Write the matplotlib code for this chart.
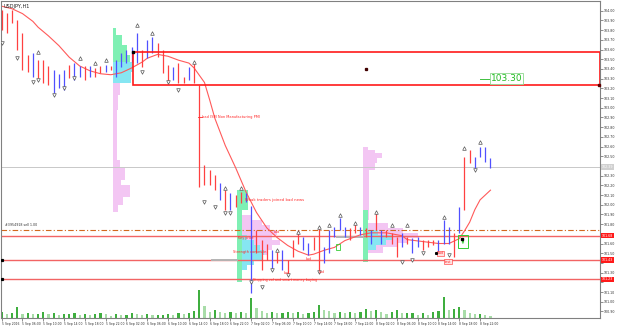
import matplotlib
matplotlib.use('Agg')
import matplotlib.pyplot as plt
from matplotlib.patches import Rectangle

# ---------------- data ----------------
symbol = "USDJPY,H1"

highs = [104.01, 103.98, 104.01, 103.90, 103.77, 103.54, 103.56, 103.49, 103.49, 103.43,
         103.39, 103.35, 103.39, 103.44, 103.46, 103.43, 103.43, 103.43, 103.41, 103.43,
         103.44, 103.43, 103.49, 103.56, 103.59, 103.63, 103.77, 103.59, 103.70, 103.73,
         103.67, 103.59, 103.44, 103.42, 103.46, 103.32, 103.42, 103.46, 103.23, 102.41,
         102.36, 102.31, 102.22, 102.15, 102.12, 102.10, 102.13, 102.12, 101.99, 101.74,
         101.64, 101.60, 101.53, 101.51, 101.53, 101.43, 101.64, 101.74, 101.67, 101.61,
         101.67, 101.77, 101.56, 101.74, 101.77, 101.86, 101.77, 101.76, 101.81, 101.77,
         101.76, 101.74, 101.91, 101.74, 101.74, 101.71, 101.67, 101.71, 101.67, 101.66,
         101.67, 101.64, 101.64, 101.64, 101.64, 101.84, 101.77, 101.71, 101.98, 102.49,
         102.56, 102.49, 102.59, 102.59, 102.48]
lows = [103.80, 103.77, 103.87, 103.59, 103.39, 103.37, 103.32, 103.31, 103.25, 103.23,
        103.15, 103.20, 103.18, 103.31, 103.29, 103.32, 103.29, 103.32, 103.32, 103.36,
        103.37, 103.39, 103.32, 103.42, 103.46, 103.47, 103.46, 103.42, 103.51, 103.56,
        103.52, 103.36, 103.26, 103.29, 103.25, 103.25, 103.29, 103.25, 102.18, 102.20,
        102.20, 102.15, 102.05, 101.95, 101.95, 101.98, 102.02, 102.03, 101.09, 101.50,
        101.33, 101.43, 101.33, 101.40, 101.33, 101.28, 101.46, 101.60, 101.53, 101.48,
        101.53, 101.30, 101.40, 101.50, 101.67, 101.74, 101.67, 101.64, 101.71, 101.69,
        101.67, 101.60, 101.74, 101.60, 101.67, 101.60, 101.46, 101.56, 101.60, 101.50,
        101.56, 101.53, 101.56, 101.58, 101.50, 101.60, 101.60, 101.46, 101.71, 101.95,
        102.43, 102.38, 102.49, 102.44, 102.38]
bar_dir = ("dddddduddduuuduududduduuuuuduuddduddudddddududduudddududdduuddu"
           "uuuuddudududdduduuddduuududduuuuudud")[:len(highs)]

volumes = [6, 4, 5, 11, 4, 5, 4, 4, 6, 4, 5, 3, 4, 4, 5, 3, 4, 3, 4, 5,
           4, 2, 4, 3, 3, 5, 4, 3, 4, 3, 3, 3, 4, 3, 5, 4, 5, 7, 28, 12,
           6, 8, 6, 5, 6, 5, 6, 5, 20, 10, 7, 5, 6, 5, 5, 6, 5, 6, 4, 5,
           6, 13, 8, 7, 5, 6, 5, 6, 5, 6, 9, 7, 8, 6, 4, 6, 8, 5, 5, 5,
           3, 5, 3, 6, 7, 21, 8, 9, 11, 8, 5, 4, 4, 3, 2]

ma_idx = [-1, 2, 4, 6, 7, 9, 11, 13, 15, 17, 19, 21, 23, 25, 27, 28, 30, 32, 34, 36,
          37, 39, 40, 41, 43, 45, 47, 49, 51, 53, 55, 57, 59, 60, 62, 64, 66, 69, 71,
          74, 77, 78, 81, 84, 86, 88, 89, 90, 91, 92, 94]
ma_val = [104.06, 104.02, 103.97, 103.89, 103.83, 103.74, 103.64, 103.52, 103.43, 103.38,
          103.35, 103.34, 103.36, 103.41, 103.47, 103.51, 103.55, 103.53, 103.49, 103.46,
          103.41, 103.26, 103.08, 102.89, 102.61, 102.38, 102.13, 101.92, 101.76, 101.66,
          101.58, 101.52, 101.48, 101.49, 101.53, 101.56, 101.63, 101.69, 101.71, 101.71,
          101.68, 101.64, 101.62, 101.60, 101.60, 101.65, 101.73, 101.82, 101.95, 102.05,
          102.15]

up_frac_idx = [7, 15, 18, 20, 26, 29, 37, 43, 46, 53, 57, 61, 63, 65, 68, 72, 75, 78, 85, 89, 92]
up_frac_price = [103.57, 103.51, 103.46, 103.49, 103.85, 103.77, 103.47, 102.17, 102.17, 101.53,
                 101.72, 101.77, 101.79, 101.89, 101.81, 101.92, 101.79, 101.79, 101.87, 102.58, 102.65]
dn_frac_idx = [0, 3, 6, 7, 10, 12, 14, 27, 32, 34, 39, 41, 43, 44, 48, 50, 52, 55, 61, 77, 79, 81, 86, 91]
dn_frac_price = [103.67, 103.51, 103.26, 103.29, 103.13, 103.20, 103.31, 103.37, 103.26, 103.18,
                 102.03, 101.98, 101.91, 101.91, 101.20, 101.15, 101.33, 101.28, 101.31, 101.41,
                 101.43, 101.50, 101.48, 102.36]

xlabels = ["5 Sep 2016", "5 Sep 06:00", "5 Sep 10:00", "5 Sep 14:00", "5 Sep 18:00", "5 Sep 22:00",
           "6 Sep 02:00", "6 Sep 06:00", "6 Sep 10:00", "6 Sep 14:00", "6 Sep 18:00", "6 Sep 22:00",
           "7 Sep 02:00", "7 Sep 06:00", "7 Sep 10:00", "7 Sep 14:00", "7 Sep 18:00", "7 Sep 22:00",
           "8 Sep 02:00", "8 Sep 06:00", "8 Sep 10:00", "8 Sep 14:00", "8 Sep 18:00", "8 Sep 22:00"]

# horizontal levels
box_top, box_bottom, box_start = 103.57, 103.23, 25.2
box_label = "103.30"
bid_price = 102.39
order_price = 101.74
order_label = "#3954918 sell 1.00"
red_levels = [101.68, 101.43, 101.23]

# volume profiles: (price_hi, price_lo, width_in_bars)
profA_start = 21.4
profA_green = [(103.82, 103.75, 0.6), (103.75, 103.65, 1.7), (103.65, 103.54, 2.7), (103.54, 103.47, 3.3)]
profA_cyan = [(103.47, 103.37, 3.8), (103.37, 103.25, 3.5)]
profA_pink = [(103.25, 103.13, 1.3), (103.13, 102.98, 1.0), (102.98, 102.46, 0.8), (102.46, 102.38, 1.3),
              (102.38, 102.25, 2.3), (102.25, 102.20, 1.5), (102.20, 102.08, 3.3), (102.08, 102.00, 1.9),
              (102.00, 101.92, 1.0)]

profB_start = 45.25
profB_green = [(102.15, 101.95, 2.1), (101.95, 101.20, 1.0)]
profB_pink = [(101.89, 101.84, 1.9), (101.84, 101.79, 3.8), (101.79, 101.74, 5.4), (101.74, 101.69, 6.7),
              (101.69, 101.64, 5.8), (101.64, 101.58, 7.3), (101.58, 101.53, 5.8), (101.53, 101.48, 4.8),
              (101.48, 101.43, 3.8), (101.43, 101.38, 1.9)]
profB_cyan = [(101.69, 101.64, 1.0), (101.64, 101.58, 2.3), (101.58, 101.53, 3.5), (101.53, 101.48, 4.2),
              (101.48, 101.43, 3.8), (101.43, 101.38, 2.3), (101.38, 101.33, 1.0)]
profB_poc = (40.4, 45.25, 101.43)

profC_start = 69.5
profC_green = [(101.95, 101.41, 1.0)]
profC_pink_top = [(102.59, 102.56, 1.0), (102.56, 102.53, 2.3), (102.53, 102.48, 3.7), (102.48, 102.43, 2.7),
                  (102.43, 102.36, 2.3), (102.36, 101.84, 1.2)]
profC_pink = [(101.81, 101.76, 3.8), (101.76, 101.71, 6.7), (101.71, 101.66, 9.6), (101.66, 101.61, 7.7),
              (101.61, 101.56, 5.8), (101.56, 101.50, 2.9)]
profC_cyan = [(101.74, 101.69, 1.9), (101.69, 101.64, 4.8), (101.64, 101.58, 3.5), (101.58, 101.53, 1.5)]
profC_poc = (64.5, 69.5, 101.67)

notes = [
    (38.5, 102.90, "bad ISM Non Manufacturing PMI", 2.6),
    (46.8, 102.05, "Weak traders joined bad news", 2.8),
    (45.5, 101.66, "Key price", 2.4),
    (44.4, 101.51, "Strength comes in", 2.6),
    (52.3, 101.72, "bad", 2.4),
    (58.4, 101.44, "bad", 2.4),
    (54.3, 101.30, "bad", 2.4),
    (61.0, 101.31, "bad", 2.4),
    (48.3, 101.22, "Stopping vol and smart money buying", 2.4),
]

# ---------------- drawing ----------------
RED = '#ff2a2a'
fig = plt.figure(figsize=(6.25, 3.29), dpi=100)
fig.patch.set_facecolor('white')
axv = fig.add_axes([1/625, 11/329, 599/625, 317/329])
ax = fig.add_axes([1/625, 11/329, 599/625, 317/329], sharex=axv)
ax.patch.set_visible(False)
xmin, xmax = -0.13, 115.06
ymin, ymax = 100.832, 104.100
ax.set_xlim(xmin, xmax)
ax.set_ylim(ymin, ymax)

n = len(highs)
xs = list(range(n))

# volume bars
vcols = []
for i, v in enumerate(volumes):
    prev = volumes[i - 1] if i > 0 else v
    vcols.append('#3fae3f' if v >= prev else '#a8dca8')
axv.bar(xs, volumes, width=0.4, color=vcols, linewidth=0)
axv.set_ylim(0, 317)
axv.axis('off')

def slabs(start, rows, color, z=1):
    for hi, lo, w in rows:
        ax.add_patch(Rectangle((start, lo), w, hi - lo, facecolor=color, edgecolor='none', zorder=z))

slabs(profA_start, profA_pink, '#f3c6f3')
slabs(profA_start, profA_cyan, '#86e6f2')
slabs(profA_start, profA_green, '#7ff0b4')
slabs(profB_start + 1.0, profB_pink, '#f3c6f3')
slabs(profB_start + 1.0, profB_cyan, '#86e6f2')
slabs(profB_start, profB_green, '#7ff0b4')
slabs(profC_start, profC_pink_top, '#f3c6f3')
slabs(profC_start + 1.0, profC_pink, '#f3c6f3')
slabs(profC_start + 1.0, profC_cyan, '#86e6f2')
slabs(profC_start, profC_green, '#7ff0b4')
for x0, x1, p in (profB_poc, profC_poc):
    ax.plot([x0, x1], [p, p], color='#b4b4b4', lw=1.4, zorder=1.5)

# horizontal lines
ax.axhline(bid_price, color='#c8c8c8', lw=0.7, zorder=1.2)
ax.axhline(order_price, color='#d2691e', lw=0.8, ls=(0, (5, 2, 1, 2)), zorder=1.3)
for lv in red_levels:
    ax.axhline(lv, color='#f26464', lw=1.0, zorder=1.3)
ax.text(0.6, order_price + 0.03, order_label, fontsize=2.3, color='#303030', va='bottom', ha='left')
for lv in red_levels[1:]:
    ax.plot([0.0], [lv], marker='s', ms=1.3, color='black', zorder=3)

# rectangle zone
ax.add_patch(Rectangle((box_start, box_bottom), xmax - box_start - 0.05, box_top - box_bottom,
                       facecolor='none', edgecolor='#ff1a1a', lw=1.2, zorder=4))
ax.plot([box_start], [box_top], marker='s', ms=1.6, color='black', zorder=5)
ax.plot([xmax - 0.1], [box_bottom], marker='s', ms=1.6, color='#600000', zorder=5, clip_on=False)
ax.plot([(box_start + xmax) / 2], [(box_top + box_bottom) / 2], marker='s', ms=1.4, color='#400000', zorder=5)
ax.plot([92.0, 94.0], [103.30, 103.30], color='#40c040', lw=0.7, zorder=5)
ax.text(94.1, 103.30, box_label, fontsize=6.5, color='#22bb22', va='center', ha='left', zorder=6,
        bbox=dict(boxstyle='square,pad=0.08', facecolor='white', edgecolor='#8fd88f', lw=0.6))

# moving average
ax.plot(ma_idx, ma_val, color='#ff5a5a', lw=0.8, zorder=2)

# price bars
cols = {'u': '#5050ff', 'd': '#ff4040'}
ax.vlines(xs, lows, highs, colors=[cols[d] for d in bar_dir], lw=0.9, zorder=3)

# fractals
ax.plot(up_frac_idx, up_frac_price, ls='none', marker='^', ms=2.6, mfc='white', mec='#555555', mew=0.5, zorder=4)
ax.plot(dn_frac_idx, dn_frac_price, ls='none', marker='v', ms=2.6, mfc='white', mec='#555555', mew=0.5, zorder=4)

# annotations
for x, y, t, fs in notes:
    ax.text(x, y, t, fontsize=fs, color=RED, va='center', ha='left', zorder=6)
ax.plot([37.8, 38.6], [102.90, 102.90], color=RED, lw=0.6, zorder=6)
ax.add_patch(Rectangle((64.3, 101.53), 0.8, 0.07, facecolor='none', edgecolor='#33cc33', lw=0.6, zorder=6))
ax.add_patch(Rectangle((87.8, 101.55), 1.8, 0.14, facecolor='none', edgecolor='#33cc33', lw=0.7, zorder=6))
ax.annotate('', xy=(88.7, 101.67), xytext=(88.7, 101.57),
            arrowprops=dict(arrowstyle='-|>', color='#33cc33', lw=0.6, mutation_scale=3), zorder=6)
ax.plot([88.5], [101.645], marker='s', ms=1.8, color='black', zorder=7)
ax.text(83.8, 101.50, "bad", fontsize=2.4, color=RED, va='center', ha='left', zorder=6,
        bbox=dict(boxstyle='square,pad=0.15', facecolor='#ffe0e0', edgecolor=RED, lw=0.4))
ax.plot([83.6], [101.50], marker='s', ms=1.2, color='black', zorder=7)
ax.text(85.2, 101.41, "test", fontsize=2.4, color=RED, va='center', ha='left', zorder=6,
        bbox=dict(boxstyle='square,pad=0.15', facecolor='#ffe0e0', edgecolor=RED, lw=0.4))

# symbol title
ax.text(0.004, 0.992, symbol, transform=ax.transAxes, fontsize=3.6, color='#202020', va='top', ha='left')

# axes styling
for s in ax.spines.values():
    s.set_color('#808080')
    s.set_linewidth(0.8)
ax.yaxis.tick_right()
tag_prices = [bid_price] + red_levels
yt = [round(104.00 - 0.1 * k, 2) for k in range(32)]
ax.set_yticks(yt)
ax.set_yticklabels(["" if min(abs(v - t) for t in tag_prices) < 0.045 else f"{v:.2f}" for v in yt],
                   fontsize=2.3, color='#303030')
ax.tick_params(axis='y', length=2, width=0.5, pad=1, colors='#606060', labelcolor='#303030')
xt = [4 * k for k in range(len(xlabels))]
ax.set_xticks(xt)
ax.set_xticklabels(xlabels, fontsize=2.2, color='#303030', ha='left')
ax.tick_params(axis='x', length=2, width=0.5, pad=1, colors='#606060', labelcolor='#303030')

# right-side price tags
def tag(p, txt, fc, tc):
    ax.text(1.003, (p - ymin) / (ymax - ymin), txt, transform=ax.transAxes, fontsize=2.3, color=tc,
            va='center', ha='left', clip_on=False, zorder=8,
            bbox=dict(boxstyle='square,pad=0.2', facecolor=fc, edgecolor='none'))

tag(bid_price, f"{bid_price:.2f}", '#d0d0d0', '#ffffff')
for lv in red_levels:
    tag(lv, f"{lv:.2f}", '#ff1a1a', '#ffffff')

fig.savefig('out.png', dpi=100, facecolor='white')
